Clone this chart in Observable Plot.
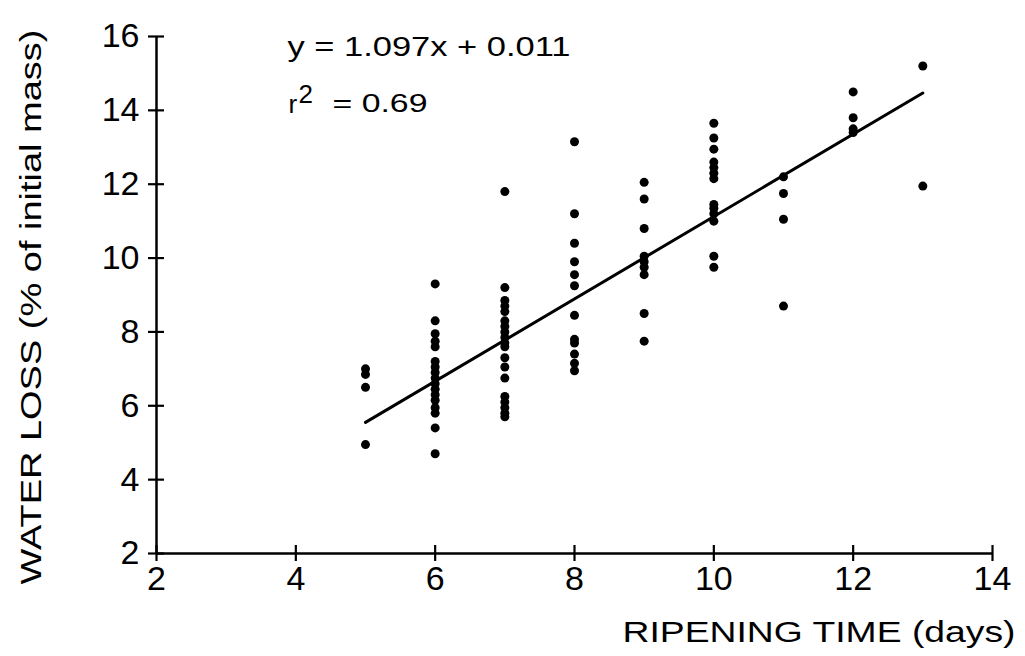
<!DOCTYPE html>
<html>
<head>
<meta charset="utf-8">
<script src="https://cdn.jsdelivr.net/npm/d3@7"></script>
<script src="https://cdn.jsdelivr.net/npm/@observablehq/plot@0.6"></script>
<style>
  html, body { margin: 0; padding: 0; background: #fff; }
  #chart svg { display: block; }
</style>
</head>
<body>
<div id="chart"></div>
<script>
// Ripening time (days) for each fruit
const ripeningDays = [
  5,5,5,5,
  6,6,6,6,6,6,6,6,6,6,6,6,6,6,6,6,6,
  7,7,7,7,7,7,7,7,7,7,7,7,7,7,7,7,7,7,7,
  8,8,8,8,8,8,8,8,8,8,8,8,
  9,9,9,9,9,9,9,9,9,
  10,10,10,10,10,10,10,10,10,10,10,10,10,
  11,11,11,11,
  12,12,12,12,
  13,13
];
// Water loss (% of initial mass)
const waterLoss = [
  7.0, 6.85, 6.5, 4.95,
  9.3, 8.3, 7.95, 7.75, 7.6, 7.2, 7.05, 6.9, 6.75, 6.6, 6.45, 6.3, 6.15, 5.95, 5.8, 5.4, 4.7,
  11.8, 9.2, 8.85, 8.7, 8.55, 8.3, 8.15, 8.0, 7.85, 7.7, 7.6, 7.3, 7.05, 6.75, 6.25, 6.1, 5.95, 5.8, 5.7,
  13.15, 11.2, 10.4, 9.9, 9.55, 9.25, 8.45, 7.8, 7.7, 7.4, 7.15, 6.95,
  12.05, 11.6, 10.8, 10.05, 9.9, 9.75, 9.55, 8.5, 7.75,
  13.65, 13.25, 12.95, 12.6, 12.45, 12.3, 12.15, 11.45, 11.35, 11.2, 11.0, 10.05, 9.75,
  12.2, 11.75, 11.05, 8.7,
  14.5, 13.8, 13.5, 13.4,
  15.2, 11.95
];
// Regression line as drawn (end points)
const fitDays = [5, 13];
const fitLoss = [5.55, 14.47];

const xTicks = [2, 4, 6, 8, 10, 12, 14];
const yTicks = [2, 4, 6, 8, 10, 12, 14, 16];

const equationText = "y = 1.097x + 0.011";
const rText = "r";
const rSupText = "2";
const rValueText = "= 0.69";
const xLabel = "RIPENING TIME (days)";
const yLabel = "WATER LOSS (% of initial mass)";

const points = ripeningDays.map((d, i) => ({days: d, loss: waterLoss[i]}));
const fit = fitDays.map((d, i) => ({days: d, loss: fitLoss[i]}));

const W = 1025, H = 656;
const mL = 156, mR = 33, mT = 36, mB = 103;
const innerH = H - mT - mB;
const innerW = W - mL - mR;
const font = "'Liberation Sans', Arial, Helvetica, sans-serif";

const chart = Plot.plot({
  width: W,
  height: H,
  marginLeft: mL,
  marginRight: mR,
  marginTop: mT,
  marginBottom: mB,
  style: {fontFamily: font, background: "#fff", color: "#000"},
  x: {domain: [2, 14]},
  y: {domain: [2, 16]},
  marks: [
    // axis lines
    Plot.ruleY([2], {stroke: "#000", strokeWidth: 2.5}),
    Plot.ruleX([2], {stroke: "#000", strokeWidth: 2.5}),
    // cross ticks
    Plot.tickX(xTicks, {x: d => d, stroke: "#000", strokeWidth: 2.2, insetTop: innerH - 8, insetBottom: -8}),
    Plot.tickY(yTicks, {y: d => d, stroke: "#000", strokeWidth: 2.2, insetLeft: -8, insetRight: innerW - 8}),
    // tick labels
    Plot.axisX({ticks: xTicks, tickSize: 0, tickPadding: 12, fontSize: 34, label: null, tickFormat: d => String(d)}),
    Plot.axisY({ticks: yTicks, tickSize: 0, tickPadding: 17, fontSize: 34, label: null, tickFormat: d => String(d)}),
    // data
    Plot.dot(points, {x: "days", y: "loss", r: 4.5, fill: "#000", stroke: "none"}),
    Plot.line(fit, {x: "days", y: "loss", stroke: "#000", strokeWidth: 3}),
    // annotations
    Plot.text([equationText], {text: d => d, frameAnchor: "top-left", dx: 131, dy: 11, textAnchor: "start", lineAnchor: "middle", fontSize: 27, fill: "#000"}),
    Plot.text([rText], {text: d => d, frameAnchor: "top-left", dx: 132, dy: 68, textAnchor: "start", lineAnchor: "middle", fontSize: 26, fill: "#000"}),
    Plot.text([rSupText], {text: d => d, frameAnchor: "top-left", dx: 142, dy: 58, textAnchor: "start", lineAnchor: "middle", fontSize: 26, fill: "#000"}),
    Plot.text([rValueText], {text: d => d, frameAnchor: "top-left", dx: 176, dy: 67, textAnchor: "start", lineAnchor: "middle", fontSize: 26, fill: "#000"}),
    // axis titles
    Plot.text([xLabel], {text: d => d, frameAnchor: "bottom-right", dx: 23, dy: 79, textAnchor: "end", lineAnchor: "middle", fontSize: 30, fill: "#000"}),
    Plot.text([yLabel], {text: d => d, frameAnchor: "left", dx: -125, dy: 12, rotate: -90, textAnchor: "middle", lineAnchor: "middle", fontSize: 29, fill: "#000"})
  ]
});

// stretch the wide typewriter-like labels of the original figure
const targetLengths = new Map([
  [equationText, 283],
  [rValueText, 95],
  [xLabel, 393],
  [yLabel, 555]
]);
d3.select(chart).selectAll("text").each(function() {
  const t = this.textContent;
  if (targetLengths.has(t)) {
    d3.select(this).attr("textLength", targetLengths.get(t)).attr("lengthAdjust", "spacingAndGlyphs");
  }
});

document.getElementById("chart").appendChild(chart);
</script>
</body>
</html>
